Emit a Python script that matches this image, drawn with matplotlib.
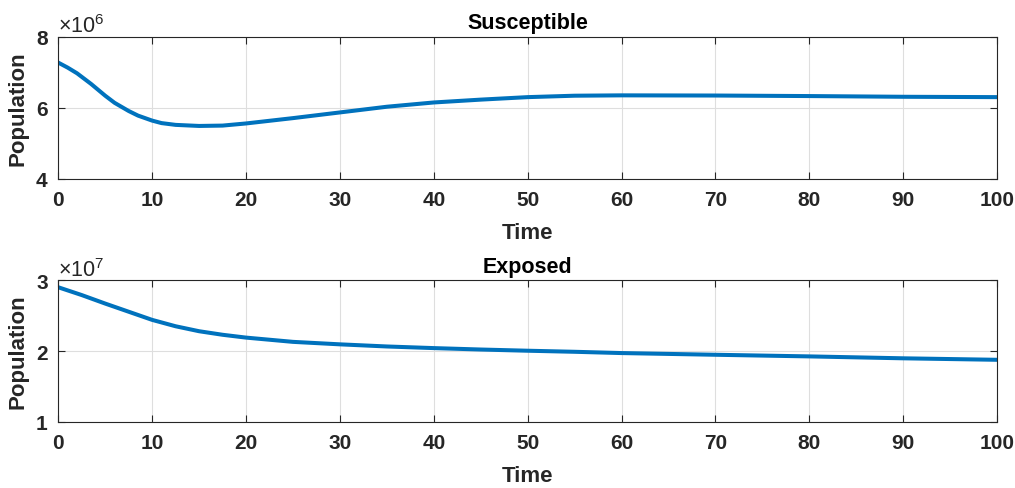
import numpy as np
import matplotlib.pyplot as plt
from matplotlib.ticker import ScalarFormatter

plt.rcParams['font.family'] = ['Liberation Sans', 'DejaVu Sans']
plt.rcParams['mathtext.default'] = 'regular'

# values
t_s = [0, 1, 2, 2.5, 3.5, 5, 6, 7.5, 8.5, 10, 11, 12.5, 15, 17.5, 20, 25, 30, 35, 40,
       45, 50, 55, 60, 70, 80, 90, 100]
susceptible = [7.27, 7.13, 6.97, 6.87, 6.67, 6.34, 6.14, 5.91, 5.78, 5.64, 5.57, 5.52,
               5.49, 5.50, 5.56, 5.71, 5.87, 6.03, 6.15, 6.23, 6.30, 6.34, 6.35, 6.345,
               6.33, 6.31, 6.30]

t_e = [0, 2.5, 5, 7.5, 10, 12.5, 15, 17.5, 20, 25, 30, 35, 40, 45, 50, 55, 60, 70, 80,
       90, 100]
exposed = [2.90, 2.79, 2.67, 2.555, 2.44, 2.35, 2.28, 2.23, 2.19, 2.13, 2.095, 2.065,
           2.042, 2.022, 2.005, 1.99, 1.972, 1.948, 1.925, 1.898, 1.877]

x_ticks = [0, 10, 20, 30, 40, 50, 60, 70, 80, 90, 100]

fig = plt.figure(figsize=(10.15, 4.89), dpi=100)
ax1 = fig.add_axes([0.0574, 0.632, 0.925, 0.291])
ax2 = fig.add_axes([0.0574, 0.135, 0.925, 0.290])

panels = [
    (ax1, t_s, np.array(susceptible) * 1e6, 'Susceptible', [4e6, 6e6, 8e6], (4e6, 8e6)),
    (ax2, t_e, np.array(exposed) * 1e7, 'Exposed', [1e7, 2e7, 3e7], (1e7, 3e7)),
]

for ax, t, y, title, yt, ylim in panels:
    ax.plot(t, y, color='#0072BD', lw=2.9)
    ax.set_xlim(0, 100)
    ax.set_ylim(*ylim)
    ax.set_xticks(x_ticks)
    ax.set_yticks(yt)
    fmt = ScalarFormatter(useMathText=True)
    fmt.set_powerlimits((0, 0))
    ax.yaxis.set_major_formatter(fmt)
    ax.yaxis.get_offset_text().set_fontsize(15.5)
    ax.grid(True, color='#dedede', lw=0.8)
    ax.tick_params(axis='x', pad=8)
    ax.tick_params(axis='y', pad=7)
    ax.tick_params(direction='in', length=5, width=0.8, labelsize=15,
                   top=True, right=True, colors='#262626')
    for lab in ax.get_xticklabels() + ax.get_yticklabels():
        lab.set_fontweight('bold')
    for sp in ax.spines.values():
        sp.set_color('#262626')
        sp.set_linewidth(0.8)
    ax.set_title(title, fontsize=15.5, fontweight='bold', pad=6)
    ax.set_xlabel('Time', fontsize=16, fontweight='bold', color='#262626', labelpad=9)
    ax.set_ylabel('Population', fontsize=16, fontweight='bold', color='#262626', labelpad=5)

plt.savefig('out.png', dpi=100)
